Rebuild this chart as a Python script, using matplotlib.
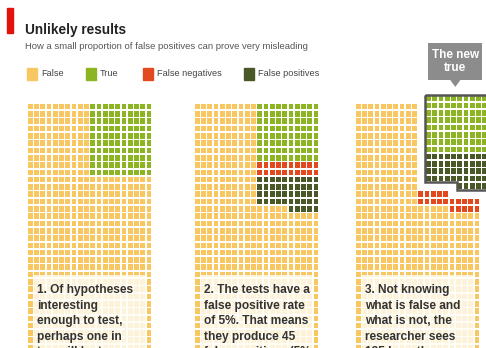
import matplotlib
matplotlib.use("Agg")
import matplotlib.pyplot as plt
import numpy as np
from matplotlib.patches import Rectangle, Polygon
from matplotlib.collections import PatchCollection

plt.rcParams["font.family"] = ["Liberation Sans", "DejaVu Sans"]

# categories shown in the key, with their colours
categories = ["False", "True", "False negatives", "False positives"]
colours = ["#f9c762", "#8cb423", "#e2491d", "#4a5827"]

# 1,000 hypotheses, one in ten true, 5% false positives, power 0.8
n_hypotheses = 1000
n_true = 100
n_false_negatives = 20
n_false_positives = 45
n_true_positives = n_true - n_false_negatives

notes = [
    ["1. Of hypotheses", "interesting", "enough to test,", "perhaps one in", "ten will be true."],
    ["2. The tests have a", "false positive rate", "of 5%. That means", "they produce 45", "false positives (5%"],
    ["3. Not knowing", "what is false and", "what is not, the", "researcher sees", "125 hypotheses as"],
]

COLS = 20
ROWS = n_hypotheses // COLS
HALF = COLS // 2

# figure geometry in pixels
W, H = 486, 348
PX, PY = 6.25, 7.3          # cell pitch
GRID_TOP = 103
panel_left = [27, 194, 355]
GAP = 0.24


def fill(grid, runs):
    # fill the right half row by row, right to left
    ncols = grid.shape[1]
    order = [(r, c) for r in range(grid.shape[0])
             for c in range(ncols - 1, ncols - HALF - 1, -1)]
    i = 0
    for code, n in runs:
        for r, c in order[i:i + n]:
            grid[r, c] = code
        i += n
    return grid


g1 = fill(np.zeros((ROWS, COLS), int), [(1, n_true)])
g2 = fill(np.zeros((ROWS, COLS), int),
          [(1, n_true_positives), (2, n_false_negatives), (3, n_false_positives)])

# panel 3: positives lifted out, false negatives settle onto the falses
g3 = fill(np.zeros((ROWS, COLS), int),
          [(-1, n_true_positives + n_false_negatives + n_false_positives)])
per_col = n_false_negatives // HALF
for c in range(HALF, COLS):
    empty = np.where(g3[:, c] < 0)[0]
    g3[empty[-per_col:], c] = 2

n_pos = n_true_positives + n_false_positives
box = fill(np.full((int(np.ceil(n_pos / HALF)), HALF), -1),
           [(1, n_true_positives), (3, n_false_positives)])
box_dx, box_dy = HALF + 1.25, -1.15


def draw_cells(ax, grid, x0=0.0, y0=0.0):
    rects, fc = [], []
    for (r, c), code in np.ndenumerate(grid):
        if code < 0:
            continue
        rects.append(Rectangle((x0 + c + GAP / 2, y0 + r + GAP / 2), 1 - GAP, 1 - GAP))
        fc.append(colours[code])
    ax.add_collection(PatchCollection(rects, facecolors=fc, edgecolors="none", zorder=2))


fig = plt.figure(figsize=(W / 100, H / 100), dpi=100)
fig.patch.set_facecolor("white")

axes = []
for left, grid, lines in zip(panel_left, [g1, g2, g3], notes):
    ax = fig.add_axes([left / W, 0, 22 * PX / W, 1])
    ax.set_xlim(0, 22)
    ax.set_ylim((H - GRID_TOP) / PY, -GRID_TOP / PY)
    ax.axis("off")
    draw_cells(ax, grid)
    ax.add_patch(Rectangle((0.95, 23.6), COLS - 1.9, 20, facecolor="#fffdf6",
                           edgecolor="none", alpha=0.82, zorder=3))
    ax.text(1.55, 24.8, "\n".join(lines), ha="left", va="top", fontsize=8.6,
            fontweight="bold", color="#333333", linespacing=1.39, zorder=4)
    axes.append(ax)

# the new "true" box in panel 3
ax3 = axes[2]
draw_cells(ax3, box, box_dx, box_dy)
depth = (box >= 0).sum(axis=0)
pts = [(box_dx, box_dy), (box_dx + HALF, box_dy)]
for j in range(HALF - 1, -1, -1):
    pts.append((box_dx + j + 1, box_dy + depth[j]))
    pts.append((box_dx + j, box_dy + depth[j]))
ax3.add_patch(Polygon(pts, closed=True, fill=False, edgecolor="#555555",
                      linewidth=1.8, zorder=5, clip_on=False))

cx = box_dx + HALF / 2 - 0.2
ax3.add_patch(Rectangle((cx - 4.3, -8.25), 8.6, 5.05, facecolor="#8c8c8c",
                        edgecolor="none", zorder=5, clip_on=False))
ax3.add_patch(Polygon([(cx - 0.9, -3.25), (cx + 0.9, -3.25), (cx, -2.2)],
                      closed=True, facecolor="#8c8c8c", edgecolor="none",
                      zorder=5, clip_on=False))
ax3.text(cx, -5.65, "The new\ntrue", ha="center", va="center", fontsize=8.5,
         fontweight="bold", color="white", linespacing=1.15, zorder=6)

# header
fig.patches.append(Rectangle((7 / W, 1 - 33 / H), 6 / W, 25 / H,
                             transform=fig.transFigure, color="#e3120b"))
fig.text(25 / W, 1 - 34 / H, "Unlikely results", fontsize=9.8, fontweight="bold",
         color="#222222", va="baseline")
fig.text(25 / W, 1 - 49 / H,
         "How a small proportion of false positives can prove very misleading",
         fontsize=6.8, color="#555555", va="baseline")

# key
key_text_x = [41, 100, 157, 258]
for x, label, col in zip(key_text_x, categories, colours):
    fig.patches.append(Rectangle(((x - 14) / W, 1 - 80 / H), 10 / W, 12 / H,
                                 transform=fig.transFigure, color=col))
    fig.text(x / W, 1 - 74 / H, label, fontsize=6.6, color="#444444",
             va="center")

fig.savefig("out.png", dpi=100, facecolor="white")
